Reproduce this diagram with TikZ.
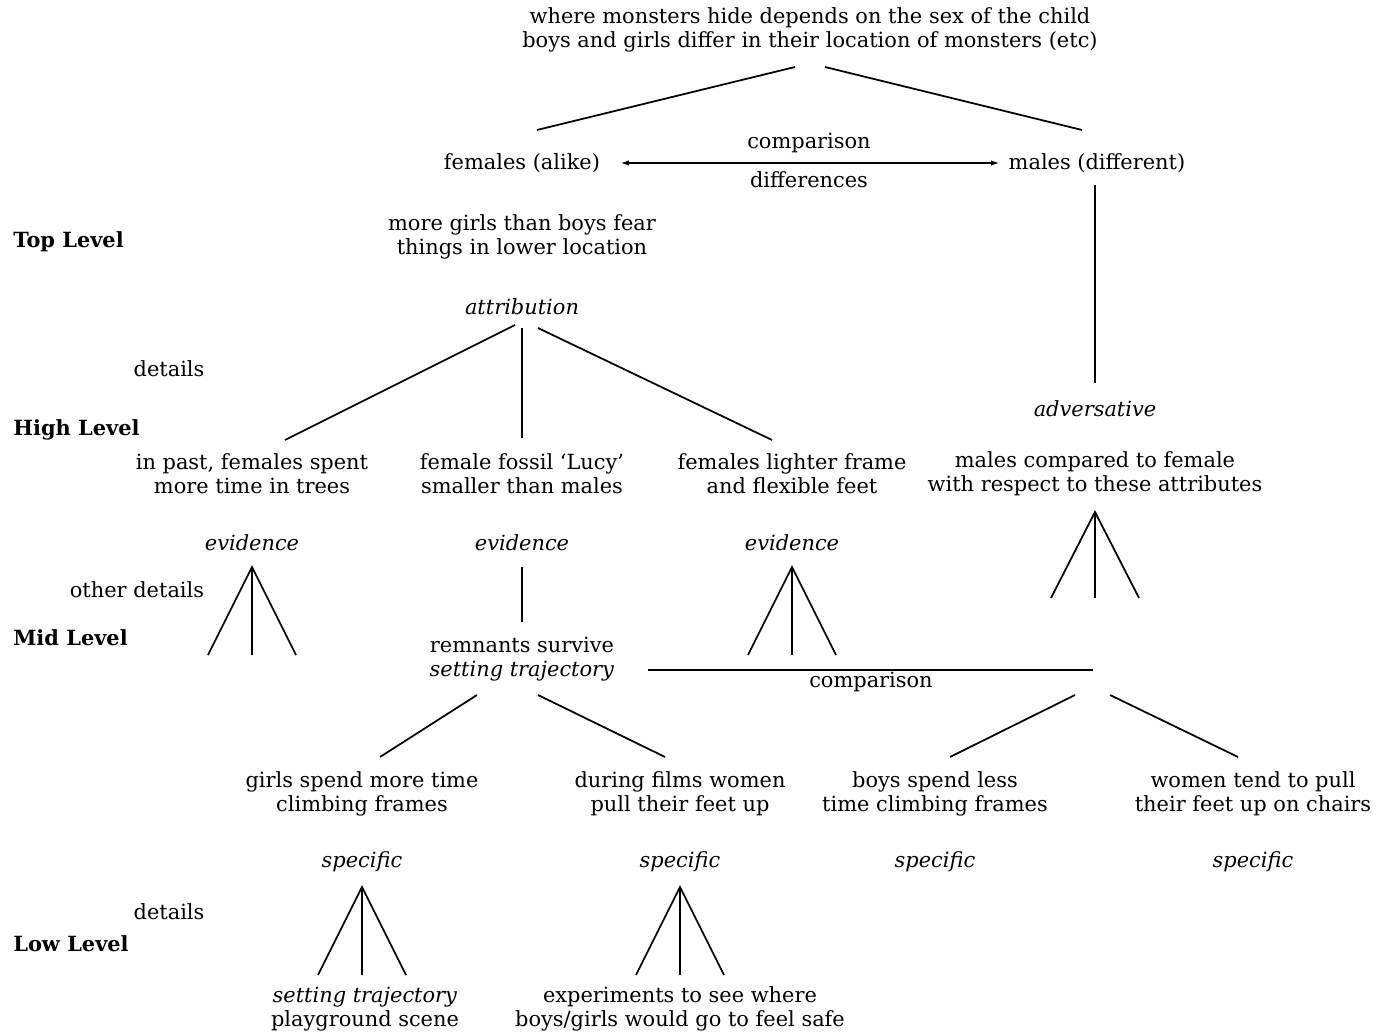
\documentclass[tikz,border=0pt]{standalone}
\usepackage{fontspec}
\setmainfont{DejaVu Serif}
\usetikzlibrary{arrows.meta}
\begin{document}
\begin{tikzpicture}[x=0.02cm,y=-0.02cm,
  txt/.style={align=center, inner sep=0pt, font=\fontsize{11.9}{13.66}\selectfont},
  itx/.style={align=center, inner sep=0pt, font=\fontsize{11.9}{13.66}\selectfont\itshape},
  lvl/.style={anchor=west, inner sep=0pt, font=\fontsize{11.9}{13}\selectfont\bfseries},
  ln/.style={line width=1pt}]
\useasboundingbox (0,0) rectangle (1377,1033);
% texts
\node[txt] (title) at (810,30) {where monsters hide depends on the sex of the child\\boys and girls differ in their location of monsters (etc)};
\node[txt] (fem) at (522,163) {females (alike)};
\node[txt] (mal) at (1097,163) {males (different)};
\node[txt] (cmp1) at (809,143) {comparison};
\node[txt] (dif) at (809,180) {differences};
\node[txt] (more) at (522,237) {more girls than boys fear\\things in lower location};
\node[itx] (attr) at (522,307) {attribution};
\node[itx] (adv) at (1095,409) {adversative};
\node[txt] (past) at (252,474) {in past, females spent\\more time in trees};
\node[txt] (lucy) at (522,474) {female fossil `Lucy'\\smaller than males};
\node[txt] (light) at (792,474) {females lighter frame\\and flexible feet};
\node[txt] (mcomp) at (1095,474) {males compared to female\\with respect to these attributes};
\node[itx] (ev1) at (252,543) {evidence};
\node[itx] (ev2) at (522,543) {evidence};
\node[itx] (ev3) at (792,543) {evidence};
\node[txt] (rem) at (522,659) {remnants survive\\\textit{setting trajectory}};
\node[txt] (cmp2) at (871,682) {comparison};
\node[txt] (girls) at (362,794) {girls spend more time\\climbing frames};
\node[txt] (films) at (680,794) {during films women\\pull their feet up};
\node[txt] (boys) at (935,794) {boys spend less\\time climbing frames};
\node[txt] (women) at (1253,794) {women tend to pull\\their feet up on chairs};
\node[itx] (sp1) at (362,862) {specific};
\node[itx] (sp2) at (680,862) {specific};
\node[itx] (sp3) at (935,862) {specific};
\node[itx] (sp4) at (1253,862) {specific};
\node[txt] (play) at (365,1009) {\textit{setting trajectory}\\playground scene};
\node[txt] (exp) at (680,1009) {experiments to see where\\boys/girls would go to feel safe};
% side labels
\node[lvl] (top) at (13,242) {Top Level};
\node[lvl] (high) at (13,430) {High Level};
\node[lvl] (mid) at (13,638) {Mid Level};
\node[lvl] (low) at (13,944) {Low Level};
\node[txt] (det1) at (169,369) {details};
\node[txt] (oth) at (137,590) {other details};
\node[txt] (det2) at (169,912) {details};
% connector coordinates
\coordinate (tA) at (795,67); \coordinate (tB) at (825,67);
\coordinate (fT) at (537,130); \coordinate (mT) at (1082,130);
\coordinate (arL) at (620,163); \coordinate (arR) at (1000,163);
\coordinate (aL) at (515,325); \coordinate (aM) at (522,328); \coordinate (aR) at (538,328);
\coordinate (pT) at (285,440); \coordinate (lT) at (522,438); \coordinate (gT) at (772,440);
\coordinate (mB) at (1095,185); \coordinate (vT) at (1095,383);
\coordinate (cL) at (648,670); \coordinate (cR) at (1093,670);
\coordinate (e2B) at (522,567); \coordinate (e2E) at (522,622);
\coordinate (rL) at (477,695); \coordinate (rR) at (538,695);
\coordinate (giT) at (380,757); \coordinate (fiT) at (665,757);
\coordinate (kL) at (1075,695); \coordinate (kR) at (1110,695);
\coordinate (boT) at (950,757); \coordinate (woT) at (1238,757);
% tree lines
\draw[ln] (tA) -- (fT);
\draw[ln] (tB) -- (mT);
\draw[ln, {Latex[length=5pt,width=3pt]}-{Latex[length=5pt,width=3pt]}] (arL) -- (arR);
\draw[ln] (aL) -- (pT);
\draw[ln] (aM) -- (lT);
\draw[ln] (aR) -- (gT);
\draw[ln] (mB) -- (vT);
\draw[ln] (e2B) -- (e2E);
\draw[ln] (cL) -- (cR);
\draw[ln] (rL) -- (giT);
\draw[ln] (rR) -- (fiT);
\draw[ln] (kL) -- (boT);
\draw[ln] (kR) -- (woT);
% triads
\foreach \n/\x/\ya/\yb in {tm/1095/512/598, t1/252/567/655, t3/792/567/655, t4/362/887/975, t5/680/887/975}{
  \coordinate (\n a) at (\x,\ya);
  \coordinate (\n l) at (\x-44,\yb);
  \coordinate (\n m) at (\x,\yb);
  \coordinate (\n r) at (\x+44,\yb);
  \draw[ln] (\n l) -- (\n a) -- (\n r);
  \draw[ln] (\n a) -- (\n m);
}
\end{tikzpicture}
\end{document}
